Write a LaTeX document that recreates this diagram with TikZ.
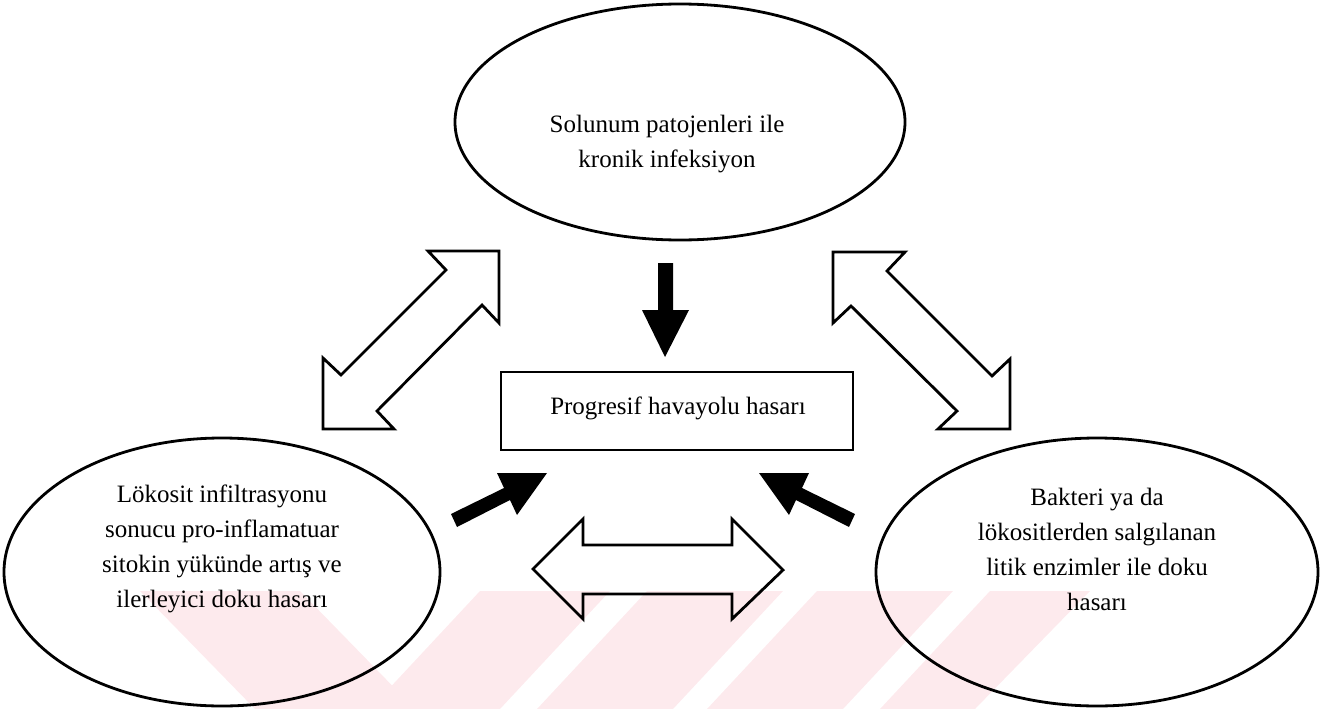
\documentclass[tikz,border=0pt]{standalone}
\usepackage{fontspec}
\setmainfont{Liberation Serif}
\usetikzlibrary{shapes.geometric}
\definecolor{wmpink}{RGB}{253,234,237}
\tikzset{
  ell/.style={draw, ellipse, line width=2.8pt, inner sep=0pt},
  txt/.style={align=center, font=\fontsize{25}{35}\selectfont, inner sep=0pt},
  box/.style={draw, line width=2.8pt, minimum width=352pt, minimum height=78pt, inner sep=0pt},
  hollow/.style={draw, line width=2.8pt, line join=miter},
  solid/.style={fill=black},
  wm/.style={fill=wmpink}
}
\begin{document}
\begin{tikzpicture}[x=1pt,y=-1pt]
\useasboundingbox (0,0) rectangle (1320,709);
% faint watermark
\fill[wm] (140,591) -- (300,591) -- (415,709) -- (255,709) -- cycle;
\fill[wm] (480,591) -- (610,591) -- (500,709) -- (370,709) -- cycle;
\fill[wm] (647,591) -- (783,591) -- (673,709) -- (537,709) -- cycle;
\fill[wm] (817,591) -- (953,591) -- (843,709) -- (707,709) -- cycle;
\fill[wm] (990,591) -- (1090,591) -- (975,709) -- (880,709) -- cycle;
% nodes
\node[ell, minimum width=450pt, minimum height=236pt] (top) at (680,122) {};
\node[txt] (toptxt) at (667,144) {Solunum patojenleri ile\\kronik infeksiyon};
\node[box] (mid) at (677,411) {};
\node[txt] (midtxt) at (678,408) {Progresif havayolu hasarı};
\node[ell, minimum width=436pt, minimum height=268pt] (left) at (222,572) {};
\node[txt] (lefttxt) at (222,549) {Lökosit infiltrasyonu\\sonucu pro-inflamatuar\\sitokin yükünde artış ve\\ilerleyici doku hasarı};
\node[ell, minimum width=442pt, minimum height=268pt] (right) at (1097,572) {};
\node[txt] (righttxt) at (1097,549) {Bakteri ya da\\lökositlerden salgılanan\\litik enzimler ile doku\\hasarı};
% solid arrows
\fill[solid] (658,263) -- (673,263) -- (673,310) -- (689,310) -- (665,357) -- (642,310) -- (658,310) -- cycle;
\fill[solid] (451,514) -- (504,488) -- (497,473) -- (547,473) -- (517,515) -- (510,500) -- (457,527) -- cycle;
\fill[solid] (855,514) -- (802,488) -- (809,473) -- (759,473) -- (789,515) -- (796,500) -- (849,527) -- cycle;
% hollow double arrows
\draw[hollow] (499,251) -- (499,323) -- (482,305) -- (377,411) -- (394,429) -- (323,429) -- (323,358) -- (341,375) -- (446,270) -- (428,251) -- cycle;
\draw[hollow] (833,252) -- (905,252) -- (887,271) -- (992,376) -- (1010,359) -- (1010,429) -- (938,429) -- (957,411) -- (851,306) -- (833,323) -- cycle;
\draw[hollow] (533,569) -- (583,519) -- (583,545) -- (732,545) -- (732,519) -- (783,570) -- (732,619) -- (732,594) -- (583,594) -- (583,619) -- cycle;
\end{tikzpicture}
\end{document}
